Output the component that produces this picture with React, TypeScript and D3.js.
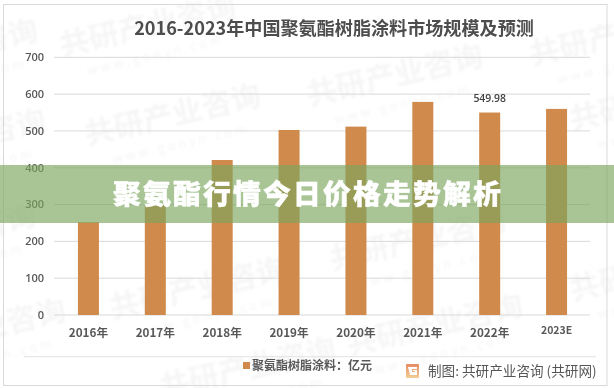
import React from "react";
import * as d3 from "d3";

const years = ["2016年", "2017年", "2018年", "2019年", "2020年", "2021年", "2022年", "2023E"];
const marketSize = [252, 299, 421, 502.6, 511.7, 578.8, 549.98, 559.8];
const yTicks = [0, 100, 200, 300, 400, 500, 600, 700];
const labelled = ["2022年"];
const chartTitle = "2016-2023年中国聚氨酯树脂涂料市场规模及预测";
const bannerTitle = "聚氨酯行情今日价格走势解析";
const legendText = "聚氨酯树脂涂料：亿元";
const sourceText = "制图: 共研产业咨询 (共研网)";
const watermarkText = "共研产业咨询";
const watermarkUrl = "w w w . g o n y n . c o m";
const watermarkCentres: [number, number][] = [
  [150, 36], [175, 125], [397, 85], [620, 45], [660, 110], [-48, 60], [-40, 150],
  [-50, 245], [200, 298], [420, 250], [437, 335], [660, 280], [250, 378], [-20, 340],
];

const W = 614;
const H = 388;
const x = d3.scaleBand<string>().domain(years).range([55, 590]).paddingInner(0.686).paddingOuter(0.343);
const y = d3.scaleLinear().domain([0, 700]).range([315, 57.3]);
const cjk = "'Noto Sans CJK SC', sans-serif";
const BAR = "#d08a4c";
const TXT = "#595959";

export default function App() {
  return (
    <svg width={W} height={H} style={{ position: "absolute", left: 0, top: 0, background: "#fff" }}>
      <defs>
        <filter id="soft" x="-5%" y="-5%" width="110%" height="110%">
          <feGaussianBlur stdDeviation="0.35" />
        </filter>
        <filter id="wm" x="-10%" y="-30%" width="120%" height="160%">
          <feGaussianBlur stdDeviation="0.8" />
        </filter>
        <linearGradient id="logo" x1="0" y1="0" x2="0" y2="1">
          <stop offset="0" stopColor="#e58a62" />
          <stop offset="1" stopColor="#f3cf94" />
        </linearGradient>
      </defs>

      <g filter="url(#wm)" fontFamily={cjk} fill="#f6f6f6">
        {watermarkCentres.map(([cx, cy], i) => (
          <g key={i} transform={`translate(${cx},${cy}) rotate(-13)`}>
            <text textAnchor="middle" fontSize={30} fontWeight={700}>{watermarkText}</text>
            <text textAnchor="middle" y={24} fontSize={13}>{watermarkUrl}</text>
          </g>
        ))}
      </g>

      <g filter="url(#soft)">
        <rect x={3.5} y={4.5} width={603.5} height={381} fill="none" stroke="#d9d9d9" strokeWidth={1} />

        <text x={334} y={35} textAnchor="middle" fontFamily={cjk} fontWeight={700} fontSize={18.1} fill="#4d4d4d">
          {chartTitle}
        </text>

        {yTicks.map((t) => (
          <g key={t}>
            <line x1={54} x2={590} y1={y(t)} y2={y(t)} stroke="#d9d9d9" strokeWidth={1} />
            <text x={44} y={y(t)} dy="0.35em" textAnchor="end" fontFamily="'Open Sans', sans-serif" fontWeight={600} fontSize={11} fill={TXT}>
              {t}
            </text>
          </g>
        ))}

        {years.map((yr, i) => (
          <g key={yr}>
            <rect x={x(yr)} y={y(marketSize[i])} width={x.bandwidth()} height={y(0) - y(marketSize[i])} fill={BAR} />
            <text
              x={x(yr)! + x.bandwidth() / 2}
              y={yr.endsWith("E") ? 330 : 333}
              dy="0.36em"
              textAnchor="middle"
              fontFamily={cjk}
              fontWeight={700}
              fontSize={yr.endsWith("E") ? 10.5 : 11.7}
              fill={TXT}
            >
              {yr}
            </text>
            {labelled.includes(yr) && (
              <text x={x(yr)! + x.bandwidth() / 2} y={y(marketSize[i]) - 14} dy="0.35em" textAnchor="middle" fontFamily="'Open Sans', sans-serif" fontWeight={600} fontSize={10.4} fill="#404040">
                {marketSize[i].toFixed(2)}
              </text>
            )}
          </g>
        ))}

        <line x1={24} x2={596} y1={356.7} y2={356.7} stroke="#e2e2e2" strokeWidth={1} />
        <rect x={243} y={362} width={7} height={7} fill={BAR} />
        <text x={252} y={365.5} dy="0.36em" fontFamily={cjk} fontWeight={700} fontSize={12} fill={TXT}>
          {legendText}
        </text>

        <rect x={406} y={364} width={13} height={14} rx={1} fill="url(#logo)" />
        <path d="M408 367h9v2h-5v3h3v-1h-2v-1h4v5h-7z" fill="#fff" />
        <text x={428} y={371} dy="0.36em" fontFamily={cjk} fontSize={13.6} fill="#555">
          {sourceText}
        </text>

        <rect x={0} y={165} width={W} height={58} fill="#7ba65e" fillOpacity={0.65} />
        <text x={113} y={194} dy="0.36em" fontFamily={cjk} fontWeight={900} fontSize={27.8} letterSpacing={2.2} fill="#fff" stroke="#fff" strokeWidth={0.5}>
          {bannerTitle}
        </text>
      </g>
    </svg>
  );
}
